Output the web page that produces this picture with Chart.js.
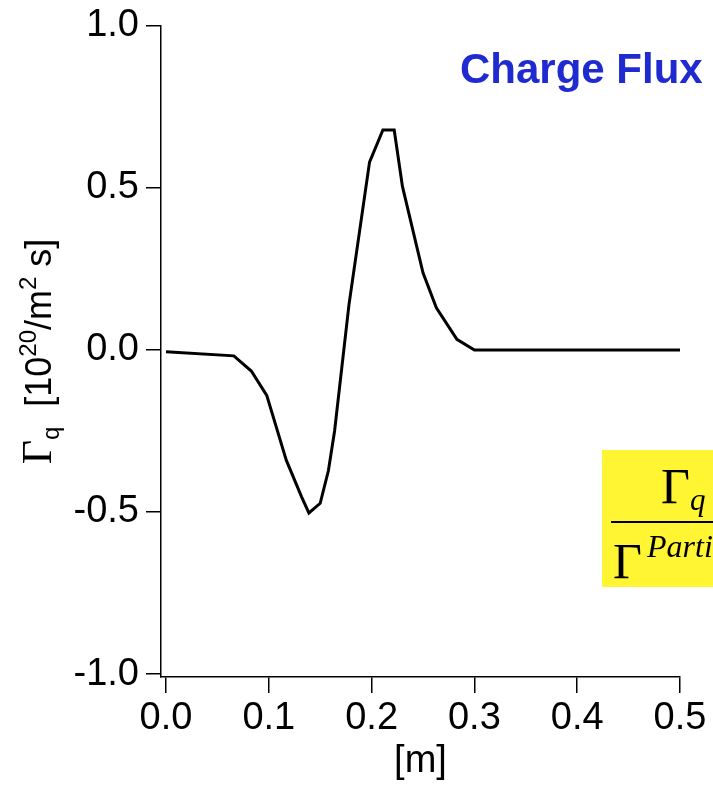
<!DOCTYPE html>
<html>
<head>
<meta charset="utf-8">
<script src="https://cdn.jsdelivr.net/npm/chart.js@4.4.0/dist/chart.umd.min.js"></script>
<style>
  html, body { margin: 0; padding: 0; background: #fff; }
  #wrap { width: 713px; height: 786px; position: relative; }
</style>
</head>
<body>
<div id="wrap"><canvas id="fluxChart" width="713" height="786"></canvas></div>
<script>
// Charge flux profile
const positions = [0, 0.066, 0.083, 0.098, 0.117, 0.132, 0.139, 0.150, 0.158, 0.164, 0.178, 0.198, 0.211, 0.222, 0.230, 0.250, 0.263, 0.283, 0.300, 0.5];
const fluxValues = [-0.005, -0.018, -0.065, -0.14, -0.34, -0.454, -0.503, -0.473, -0.372, -0.25, 0.14, 0.58, 0.679, 0.679, 0.505, 0.238, 0.13, 0.033, 0.0, 0.0];
const xTicks = [0, 0.1, 0.2, 0.3, 0.4, 0.5];
const yTicks = [-1.0, -0.5, 0.0, 0.5, 1.0];

const SANS = "'Liberation Sans', Arial, sans-serif";
const SERIF = "'Liberation Serif', 'Times New Roman', serif";

// y axis title has mixed fonts, so draw it by hand
const annotations = {
    id: 'annotations',
    afterDraw(chart) {
        const ctx = chart.ctx;
        const area = chart.chartArea;
        ctx.save();

        // Charge Flux label
        ctx.fillStyle = '#1f2ad0';
        ctx.font = 'bold 42px ' + SANS;
        ctx.textBaseline = 'alphabetic';
        ctx.textAlign = 'left';
        ctx.fillText('Charge Flux', 460, 83);

        // yellow ratio box, cut by the right edge
        ctx.fillStyle = '#fff533';
        ctx.fillRect(602, 450, 120, 137);
        ctx.fillStyle = '#000';
        ctx.font = '50px ' + SERIF;
        ctx.fillText('\u0393', 661, 503);
        ctx.font = 'italic 31px ' + SERIF;
        ctx.fillText('q', 690, 510);
        ctx.fillRect(611, 521, 110, 2);
        ctx.font = '50px ' + SERIF;
        ctx.fillText('\u0393', 613, 578);
        ctx.font = 'italic 32px ' + SERIF;
        ctx.fillText('Particle', 647, 557);

        // rotated y title: Γq [10^20/m^2 s]
        const parts = [
            { t: '\u0393', f: '42px ' + SERIF, dy: 0 },
            { t: 'q', f: '24px ' + SANS, dy: 8 },
            { t: '  [10', f: '36px ' + SANS, dy: 0 },
            { t: '20', f: '24px ' + SANS, dy: -15 },
            { t: '/m', f: '36px ' + SANS, dy: 0 },
            { t: '2', f: '24px ' + SANS, dy: -15 },
            { t: ' s]', f: '36px ' + SANS, dy: 0 }
        ];
        let total = 0;
        parts.forEach(p => { ctx.font = p.f; p.w = ctx.measureText(p.t).width; total += p.w; });
        ctx.translate(51, (area.top + area.bottom) / 2);
        ctx.rotate(-Math.PI / 2);
        let x = -total / 2;
        parts.forEach(p => {
            ctx.font = p.f;
            ctx.fillText(p.t, x, p.dy);
            x += p.w;
        });
        ctx.restore();
    }
};

const ctx = document.getElementById('fluxChart').getContext('2d');

const chart = new Chart(ctx, {
    type: 'scatter',
    data: {
        datasets: [{
            data: positions.map((x, i) => ({ x: x, y: fluxValues[i] })),
            showLine: true,
            borderColor: '#000',
            borderWidth: 3,
            pointRadius: 0,
            tension: 0
        }]
    },
    options: {
        responsive: false,
        animation: false,
        layout: {
            padding: { left: 0, top: 24, right: 33, bottom: 0 }
        },
        plugins: {
            legend: { display: false },
            tooltip: { enabled: false }
        },
        scales: {
            x: {
                type: 'linear',
                min: -0.00486,
                max: 0.5,
                afterBuildTicks: scale => { scale.ticks = xTicks.map(v => ({ value: v })); },
                afterFit: scale => { scale.height = 109; },
                border: { color: '#000', width: 1.5 },
                grid: {
                    drawOnChartArea: false,
                    drawTicks: true,
                    tickLength: 16,
                    color: '#000',
                    lineWidth: 1.5
                },
                ticks: {
                    autoSkip: false,
                    maxRotation: 0,
                    padding: 3,
                    color: '#000',
                    font: { family: SANS, size: 38 },
                    callback: v => v.toFixed(1)
                },
                title: {
                    display: true,
                    text: '[m]',
                    color: '#000',
                    font: { family: SANS, size: 38 },
                    padding: { top: 0, bottom: 2 }
                }
            },
            y: {
                type: 'linear',
                min: -1.0092,
                max: 1.0,
                afterBuildTicks: scale => { scale.ticks = yTicks.map(v => ({ value: v })); },
                afterFit: scale => { scale.width = 161; },
                border: { color: '#000', width: 1.5 },
                grid: {
                    drawOnChartArea: false,
                    drawTicks: true,
                    tickLength: 15,
                    color: '#000',
                    lineWidth: 1.5
                },
                ticks: {
                    autoSkip: false,
                    padding: 7,
                    color: '#000',
                    font: { family: SANS, size: 38, lineHeight: 1 },
                    callback: v => v.toFixed(1)
                }
            }
        }
    },
    plugins: [annotations]
});
</script>
</body>
</html>
